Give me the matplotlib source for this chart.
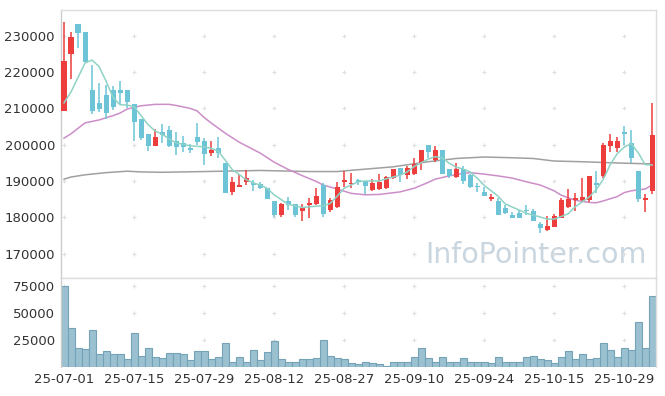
import matplotlib
matplotlib.use('Agg')
import matplotlib.pyplot as plt

# daily OHLC (KRW), 85 trading days from 25-07-01
opens = [209350, 225050, 233220, 231020, 215040, 211460, 213660, 215040, 215040, 215040,
         211090, 207050, 202920, 199710, 203380, 204020, 200990, 200530, 199150, 202090,
         200990, 197780, 199060, 194930, 187030, 188410, 189790, 189420, 189240, 188140,
         184460, 180600, 184460, 183540, 181800, 183360, 183730, 188870, 182070, 182900,
         189790, 189050, 190340, 189880, 187580, 187680, 187950, 190890, 193460, 191630,
         191810, 194840, 199890, 195760, 198510, 193280, 191170, 193280, 191630, 188590,
         186940, 185100, 184460, 182620, 180600, 181060, 182070, 181710, 178130, 176470,
         177390, 179690, 182900, 184740, 184740, 184740, 189330, 191350, 199710, 199150,
         203560, 200440, 192730, 184640, 187310]
highs = [233680, 231110, 233220, 231020, 221930, 216880, 216420, 216140, 217520, 215040,
         211090, 207050, 202920, 204300, 205680, 205120, 203380, 202460, 200070, 205860,
         201910, 200990, 202000, 194930, 190980, 191990, 192910, 190340, 189790, 188140,
         184460, 183910, 185470, 183540, 183540, 185200, 187950, 189330, 185200, 189790,
         192730, 192080, 190520, 189880, 190520, 191810, 191260, 193190, 193460, 194200,
         196400, 198510, 199890, 199610, 198510, 193280, 194840, 194200, 191990, 189330,
         188410, 186390, 185380, 183360, 181520, 181980, 183360, 182260, 178770, 180330,
         180790, 185200, 187770, 186570, 190710, 191350, 192730, 200350, 202830, 202090,
         205120, 204020, 192730, 186300, 211370]
lows = [209350, 217980, 226520, 222850, 208340, 208890, 207050, 209530, 211090, 209990,
        200990, 201270, 198240, 199710, 200350, 199430, 197130, 198050, 197590, 199890,
        194380, 196950, 196400, 186760, 186110, 188410, 188870, 187220, 187680, 184920,
        180050, 179960, 181980, 180150, 179040, 179690, 183360, 180050, 181340, 182620,
        188410, 188140, 188900, 186390, 187310, 187490, 187770, 190430, 189790, 190520,
        191600, 192910, 196220, 195300, 191810, 190890, 190890, 189050, 188140, 187030,
        185840, 184550, 180600, 180880, 179870, 179870, 180600, 179040, 175550, 176200,
        177200, 179690, 182440, 181710, 184280, 184280, 186760, 190710, 198050, 198050,
        199890, 194840, 184090, 181340, 186300]
closes = [223030, 229550, 230840, 222850, 209350, 209900, 208800, 210360, 214210, 211640,
          206320, 201910, 199710, 202090, 202640, 199710, 199430, 199430, 198600, 200720,
          197320, 198600, 197590, 186760, 189600, 188870, 190890, 188780, 188040, 185100,
          180600, 183630, 183360, 180600, 182620, 184000, 185840, 180880, 184740, 188320,
          190340, 189420, 189790, 188690, 189330, 189600, 191070, 193190, 191630, 193650,
          194560, 198510, 197870, 198510, 191990, 191350, 193280, 190060, 188320, 188320,
          185840, 185660, 180600, 181060, 179870, 179870, 181800, 179040, 177120, 177570,
          180240, 184740, 185010, 185290, 185560, 191350, 188870, 199890, 200990, 200990,
          202830, 196400, 185100, 185200, 202640]
volumes = [75000, 36000, 17500, 16600, 34100, 12000, 14750, 12000, 12000, 7400,
           31400, 11000, 17500, 9200, 8300, 12900, 12900, 12000, 6500, 14750,
           14750, 7400, 9200, 22100, 4600, 10100, 5500, 15700, 6500, 13800,
           24000, 7400, 5500, 5500, 7400, 7400, 8300, 24900, 11000, 8300,
           7400, 3700, 2800, 4600, 3700, 2800, 1800, 5500, 4600, 5500,
           10100, 17500, 8300, 4600, 10100, 4600, 4600, 8300, 4600, 4600,
           5500, 3700, 10100, 4600, 5500, 4600, 10100, 11000, 7400, 6500,
           3700, 9200, 14750, 7400, 12000, 7400, 8300, 23000, 15700, 9200,
           17500, 15700, 41500, 17500, 65500]

# moving averages (day index, value)
ma5_idx = [0, 1, 2, 3, 4, 5, 6, 7, 8, 9, 10, 11, 12, 13, 14, 15, 16, 18, 20, 21, 22, 23, 24,
           26, 27, 28, 29, 30, 32, 34, 35, 37, 38, 39, 40, 42, 43, 45, 46, 48, 49, 50, 52, 53,
           54, 55, 56, 57, 58, 59, 60, 62, 63, 65, 66, 68, 69, 70, 71, 72, 73, 75, 76, 77, 78,
           79, 80, 81, 82, 83, 84]
ma5 = [211500, 214500, 218500, 222500, 223300, 221500, 217500, 213000, 211000, 210900,
       210500, 208000, 205500, 203800, 202900, 201600, 200500, 199700, 199400, 199000,
       198300, 195800, 193200, 190400, 189500, 188900, 188000, 186200, 183600, 182700,
       182900, 183200, 183800, 185800, 188000, 189800, 190000, 190000, 190600, 191600,
       192500, 194000, 196000, 196700, 196400, 194900, 193800, 193300, 192500, 190800,
       188800, 185800, 183700, 182000, 181100, 180100, 179500, 179500, 180200, 181000,
       182900, 185600, 187600, 190400, 194500, 197500, 199300, 200300, 197800, 194500,
       194400]
ma20_idx = [0, 1, 3, 5, 7, 8, 9, 11, 13, 15, 16, 18, 19, 20, 21, 23, 25, 28, 30, 32, 34, 36,
            37, 39, 41, 43, 45, 48, 50, 52, 53, 55, 57, 58, 60, 62, 64, 66, 68, 70, 71, 73,
            75, 76, 77, 79, 80, 81, 83, 84]
ma20 = [201800, 203000, 206000, 206800, 208000, 208700, 209800, 210700, 211100, 211100,
        210800, 210000, 209300, 207500, 206000, 203200, 200700, 197700, 195200, 193200,
        191500, 189900, 188900, 187800, 186600, 186200, 186300, 187000, 188000, 189600,
        190500, 191400, 192100, 192300, 191900, 191400, 190800, 189800, 188900, 187300,
        186100, 184700, 184100, 184000, 184500, 185700, 186800, 187300, 187800, 188900]
ma60_idx = [0, 1, 3, 6, 9, 11, 14, 20, 28, 35, 39, 42, 47, 52, 56, 60, 64, 67, 70, 74, 77,
            80, 84]
ma60 = [190500, 191100, 191700, 192300, 192700, 192500, 192400, 192600, 192900, 192600,
        192600, 193100, 193900, 195300, 196200, 196600, 196400, 196200, 195500, 195300,
        195100, 194900, 194700]

tick_pos = [0, 10, 20, 30, 40, 50, 60, 70, 80]
tick_labels = ['25-07-01', '25-07-15', '25-07-29', '25-08-12', '25-08-27',
               '25-09-10', '25-09-24', '25-10-15', '25-10-29']
price_ticks = [170000, 180000, 190000, 200000, 210000, 220000, 230000]
vol_ticks = [25000, 50000, 75000]

RED = '#ee3d3d'
BLUE = '#6cc4d6'
EDGE = '#dddddd'

fig = plt.figure(figsize=(6.65, 3.96), dpi=100)
ax = fig.add_axes([0.091, 0.298, 0.895, 0.677])
axv = fig.add_axes([0.091, 0.072, 0.895, 0.226], sharex=ax)

x = list(range(len(opens)))

# candles
for i in x:
    o, h, l, c = opens[i], highs[i], lows[i], closes[i]
    col = RED if c >= o else BLUE
    ax.vlines(i, l, h, color=col, lw=1.1, zorder=3)
    ax.bar(i, max(abs(c - o), 350), bottom=min(o, c), width=0.72, color=col,
           edgecolor='none', zorder=3)

ax.plot(ma60_idx, ma60, color='#a0a0a0', lw=1.1, zorder=2)
ax.plot(ma20_idx, ma20, color='#cc8ec8', lw=1.1, zorder=2)
ax.plot(ma5_idx, ma5, color='#8fd3c6', lw=1.1, zorder=4)

# grid crosses instead of grid lines
for tp in tick_pos:
    ax.scatter([tp] * len(price_ticks), price_ticks, marker='+', s=12,
               color='#e0e0e0', lw=0.8, zorder=1)
    axv.scatter([tp] * len(vol_ticks), vol_ticks, marker='+', s=12,
                color='#e0e0e0', lw=0.8, zorder=1)

ax.text(0.985, 0.085, 'InfoPointer.com', transform=ax.transAxes, ha='right',
        va='center', fontsize=20.5, color='#c9d6df', zorder=0)

ax.set_ylim(163300, 237100)
ax.set_yticks(price_ticks)
ax.set_yticklabels([str(v) for v in price_ticks])
ax.set_xlim(-0.5, 84.5)
ax.tick_params(axis='x', bottom=False, labelbottom=False)

axv.bar(x, volumes, width=1.0, color='#9bc1d1', edgecolor='#74a2b6', lw=0.8)
axv.set_ylim(0, 82400)
axv.set_yticks(vol_ticks)
axv.set_yticklabels([str(v) for v in vol_ticks])
axv.set_xticks(tick_pos)
axv.set_xticklabels(tick_labels)

for a in (ax, axv):
    a.tick_params(length=0, labelsize=9.5, labelcolor='#333333', pad=4)
    for s in a.spines.values():
        s.set_color(EDGE)
        s.set_linewidth(1)
    a.spines['left'].set_color('#cccccc')
axv.spines['bottom'].set_visible(False)

fig.savefig('out.png', dpi=100, facecolor='white')
